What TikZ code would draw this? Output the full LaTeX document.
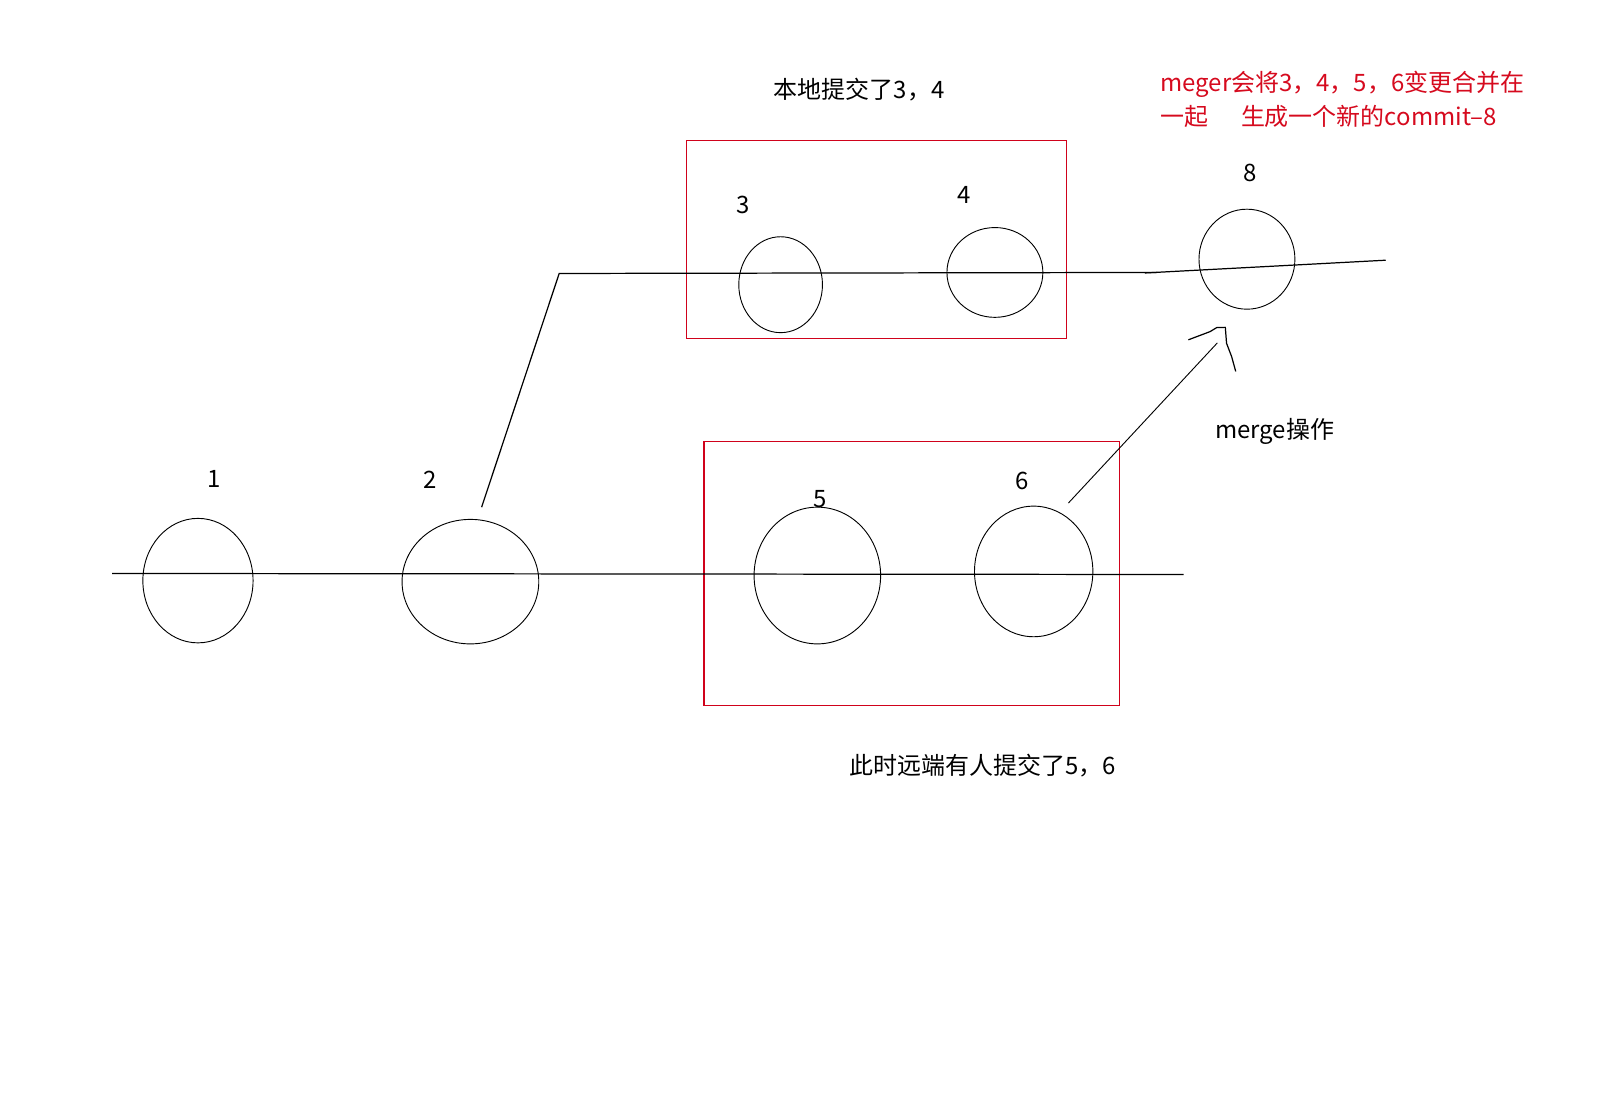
\documentclass[tikz,border=0pt]{standalone}
\usepackage{fontspec}
\setmainfont{Noto Sans CJK SC}
\usetikzlibrary{shapes.geometric}
\definecolor{boxred}{RGB}{208,2,27}
\definecolor{txtred}{RGB}{214,10,30}
\begin{document}
\begin{tikzpicture}[x=1pt,y=-1pt,
  commit/.style={draw=black,ellipse,line width=0.9pt,inner sep=0pt,outer sep=0pt},
  redbox/.style={draw=boxred,rectangle,line width=1.2pt,inner sep=0pt,outer sep=0pt},
  lbl/.style={font=\fontsize{23.5}{28}\selectfont,inner sep=0pt},
  edge/.style={draw=black,line width=1.2pt},
]
\useasboundingbox[fill=white] (0,0) rectangle (1568,1082);
% boxes
\node[redbox,minimum width=372pt,minimum height=194pt] (box1) at (859,235) {};
\node[redbox,minimum width=407pt,minimum height=258pt] (box2) at (893.5,562) {};
% commits
\node[commit,minimum width=108pt,minimum height=122pt] (c1) at (194,569) {};
\node[commit,minimum width=134pt,minimum height=122pt] (c2) at (461,570) {};
\node[commit,minimum width=124pt,minimum height=134pt] (c5) at (801,564) {};
\node[commit,minimum width=116pt,minimum height=128pt] (c6) at (1013,560) {};
\node[commit,minimum width=82pt,minimum height=94pt] (c3) at (765,279) {};
\node[commit,minimum width=94pt,minimum height=88pt] (c4) at (975,267) {};
\node[commit,minimum width=94pt,minimum height=98pt] (c8) at (1222,254) {};
% labels
\node[lbl] (l1) at (210,469) {1};
\node[lbl] (l2) at (422,470) {2};
\node[lbl] (l5) at (804,489) {5};
\node[lbl] (l6) at (1002,471) {6};
\node[lbl] (l3) at (728,201) {3};
\node[lbl] (l4) at (945,191) {4};
\node[lbl] (l8) at (1225,169) {8};
% lines
\coordinate (m0) at (110,562);
\coordinate (m1) at (1160,563);
\draw[edge] (m0) -- (m1);
\coordinate (b0) at (472,497);
\coordinate (b1) at (548,268);
\coordinate (b2) at (1134,267);
\coordinate (b2b) at (1122,267.5);
\coordinate (b3) at (1358,255);
\draw[edge] (b0) -- (b1) -- (b2);
\draw[edge] (b2b) -- (b3);
% merge arrow
\coordinate (a0) at (1047,493);
\coordinate (a1) at (1193,336);
\draw[edge,line width=0.9pt] (a0) -- (a1);
\coordinate (h0) at (1164.6,333);
\coordinate (h1) at (1185.8,325);
\coordinate (h2) at (1192.4,321);
\coordinate (h3) at (1200.8,320.8);
\coordinate (h4) at (1202,336.4);
\coordinate (h5) at (1207,349.5);
\coordinate (h6) at (1211,364);
\draw[edge,line join=round] (h0) -- (h1) -- (h2) -- (h3) -- (h4) -- (h5) -- (h6);
% texts
\node[lbl] (t1) at (842,88) {本地提交了3，4};
\node[lbl] (t2) at (963,750) {此时远端有人提交了5，6};
\node[lbl] (t3) at (1249,423) {merge操作};
\node[lbl,text=txtred,anchor=west,align=left,font=\fontsize{23.5}{33}\selectfont] (t4) at (1137,97.5)
  {meger会将3，4，5，6变更合并在\\一起\hspace{32pt}生成一个新的commit–8};
\end{tikzpicture}
\end{document}
